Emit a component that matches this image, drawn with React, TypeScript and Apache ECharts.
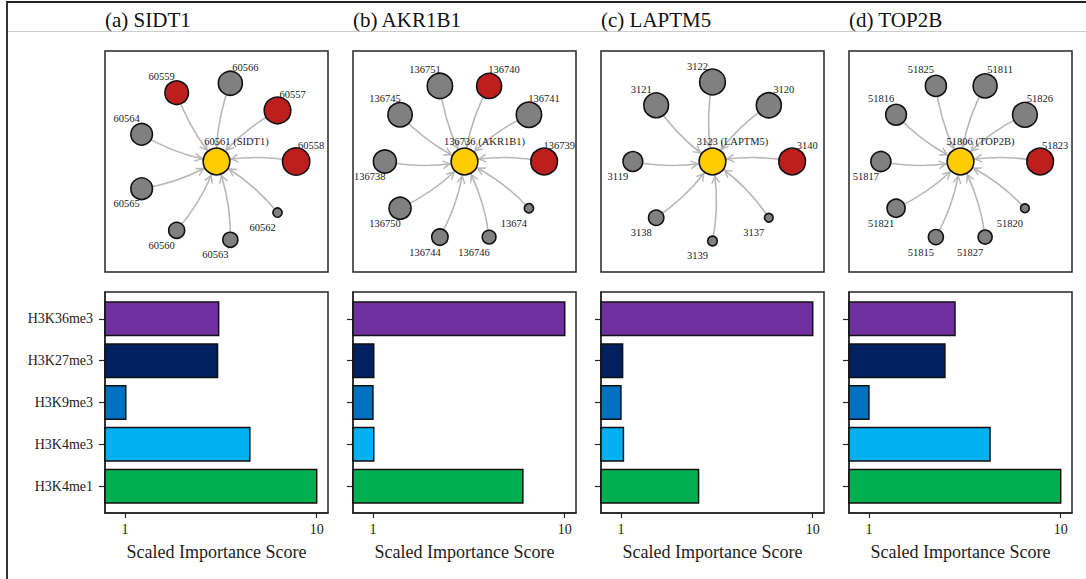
import React, { useEffect, useRef } from 'react';
import * as echarts from 'echarts';

const FONT = 'Liberation Serif';

// ---------- network data ----------
const panelTitles = ['(a) SIDT1', '(b) AKR1B1', '(c) LAPTM5', '(d) TOP2B'];
const centerIds = ['60561', '136736', '3123', '51806'];
const centerGenes = ['SIDT1', 'AKR1B1', 'LAPTM5', 'TOP2B'];
const centerSize = 26.7;

const neighborIdsA = ['60558', '60557', '60566', '60559', '60564', '60565', '60560', '60563', '60562'];
const neighborSizesA = [27.3, 26.6, 24, 23.6, 21.6, 21.6, 16, 15, 9.3];
const neighborRedA = [1, 1, 0, 1, 0, 0, 0, 0, 0];

const neighborIdsB = ['136739', '136741', '136740', '136751', '136745', '136738', '136750', '136744', '136746', '13674'];
const neighborSizesB = [26.7, 25.3, 25, 25.3, 24.3, 23, 22, 16.3, 13.7, 9.3];
const neighborRedB = [1, 0, 1, 0, 0, 0, 0, 0, 0, 0];

const neighborIdsC = ['3140', '3120', '3122', '3121', '3119', '3138', '3139', '3137'];
const neighborSizesC = [26.7, 25, 25.7, 24.7, 19.7, 15.3, 9.7, 8.7];
const neighborRedC = [1, 0, 0, 0, 0, 0, 0, 0];

const neighborIdsD = ['51823', '51826', '51811', '51825', '51816', '51817', '51821', '51815', '51827', '51820'];
const neighborSizesD = [26.7, 24.7, 24, 21, 20.7, 20, 18, 15, 14, 8.7];
const neighborRedD = [1, 0, 0, 0, 0, 0, 0, 0, 0, 0];

// ---------- bar data ----------
const marks = ['H3K36me3', 'H3K27me3', 'H3K9me3', 'H3K4me3', 'H3K4me1'];
const markColors = ['#7030A0', '#002060', '#0070C0', '#00B0F0', '#00B050'];
const scoresA = [3.08, 3.04, 1.01, 4.48, 10.0];
const scoresB = [10.0, 1.01, 1.0, 1.01, 6.05];
const scoresC = [10.0, 1.02, 1.0, 1.03, 2.54];
const scoresD = [2.81, 2.49, 1.0, 4.28, 10.0];
const xTicks = [1, 10];
const xMin = 0.787;
const xMax = 11.45;

const panels = [
  { ids: neighborIdsA, sizes: neighborSizesA, red: neighborRedA, scores: scoresA },
  { ids: neighborIdsB, sizes: neighborSizesB, red: neighborRedB, scores: scoresB },
  { ids: neighborIdsC, sizes: neighborSizesC, red: neighborRedC, scores: scoresC },
  { ids: neighborIdsD, sizes: neighborSizesD, red: neighborRedD, scores: scoresD },
];

const RED = '#BD1E1E';
const GRAY = '#808080';
const YELLOW = '#FFCC00';
const EDGE = '#B8B8B8';
const INK = '#262626';

const ARROW =
  'path://M0,0 L0.01,0 L0,0.01 Z M20,20 L19.99,20 L20,19.99 Z M10,10 L15,19 L13.2,19 L10,13.24 L6.8,19 L5,19 Z';

function buildOption(): any {
  const grid: any[] = [];
  const xAxis: any[] = [];
  const yAxis: any[] = [];
  const series: any[] = [];
  const graphic: any[] = [
    { type: 'line', shape: { x1: 6, y1: 2, x2: 1086, y2: 2 }, style: { stroke: '#222', lineWidth: 2 } },
    { type: 'line', shape: { x1: 7, y1: 2, x2: 7, y2: 579 }, style: { stroke: '#333', lineWidth: 2 } },
    { type: 'line', shape: { x1: 8, y1: 31.5, x2: 1086, y2: 31.5 }, style: { stroke: '#cccccc', lineWidth: 1 } },
  ];

  panels.forEach((p, i) => {
    const left = 105 + 248 * i;
    graphic.push({
      type: 'text',
      x: left,
      y: 20,
      style: {
        text: panelTitles[i],
        fontFamily: FONT,
        fontSize: 21,
        fill: '#111',
        textVerticalAlign: 'middle',
        verticalAlign: 'middle',
      },
    });

    // network grid
    const gNet = grid.length;
    grid.push({
      left, top: 51, width: 223, height: 221, show: true,
      borderColor: INK, borderWidth: 1.5, backgroundColor: '#fff', outerBoundsMode: 'none',
    });
    xAxis.push({ type: 'value', gridIndex: gNet, min: -1.4, max: 1.4, show: false });
    yAxis.push({ type: 'value', gridIndex: gNet, min: -1.39, max: 1.39, show: false });

    const n = p.ids.length;
    const nodes: any[] = [
      {
        name: centerIds[i],
        value: [0, 0],
        symbolSize: centerSize,
        itemStyle: { color: YELLOW },
        label: { formatter: `${centerIds[i]} (${centerGenes[i]})`, offset: [20, -20] },
      },
    ];
    p.ids.forEach((id, k) => {
      const a = (k * 360) / n;
      const r = (a * Math.PI) / 180;
      nodes.push({
        name: id,
        value: [Math.cos(r), Math.sin(r)],
        symbolSize: p.sizes[k],
        itemStyle: { color: p.red[k] ? RED : GRAY },
        label: { offset: [a < 90 ? 15 : -15, a < 180 ? -16 : 15] },
      });
    });
    const links = p.ids.map((id) => ({ source: id, target: centerIds[i] }));
    series.push({
      type: 'graph',
      coordinateSystem: 'cartesian2d',
      xAxisIndex: gNet,
      yAxisIndex: gNet,
      data: nodes,
      links,
      edgeSymbol: ['none', ARROW],
      edgeSymbolSize: [0, 19],
      itemStyle: { borderColor: '#111', borderWidth: 1.6 },
      lineStyle: { color: EDGE, width: 1.6, opacity: 1, curveness: -0.1 },
      label: {
        show: true,
        position: 'inside',
        color: '#222',
        fontSize: 10.5,
        fontFamily: FONT,
      },
      emphasis: { disabled: true },
      silent: true,
    });

    // bar grid
    const gBar = grid.length;
    grid.push({
      left, top: 292, width: 223, height: 221, show: true,
      borderColor: INK, borderWidth: 1.5, backgroundColor: '#fff', outerBoundsMode: 'none',
    });
    xAxis.push({
      type: 'log',
      logBase: 10,
      gridIndex: gBar,
      min: xMin,
      max: xMax,
      splitLine: { show: false },
      axisLine: { show: true, onZero: false, lineStyle: { color: INK, width: 1.5 } },
      axisTick: { show: true, length: 5, customValues: xTicks, lineStyle: { color: INK, width: 1.2 } },
      axisLabel: {
        show: true,
        customValues: xTicks,
        formatter: (v: number) => String(Math.round(v)),
        margin: 9,
        fontSize: 14,
        color: '#222',
        fontFamily: FONT,
      },
      name: 'Scaled Importance Score',
      nameLocation: 'middle',
      nameGap: 30,
      nameTextStyle: { fontSize: 18, color: '#222', fontFamily: FONT },
    });
    yAxis.push({
      type: 'value',
      gridIndex: gBar,
      min: -0.64,
      max: 4.64,
      inverse: true,
      splitLine: { show: false },
      axisLine: { show: true, onZero: false, lineStyle: { color: INK, width: 1.5 } },
      axisTick: { show: true, length: 6, customValues: [0, 1, 2, 3, 4], lineStyle: { color: INK, width: 1.2 } },
      axisLabel: {
        show: i === 0,
        customValues: [0, 1, 2, 3, 4],
        formatter: (v: number) => marks[Math.round(v)] ?? '',
        margin: 12,
        fontSize: 14,
        color: '#222',
        fontFamily: FONT,
      },
    });
    series.push({
      type: 'custom',
      coordinateSystem: 'cartesian2d',
      xAxisIndex: gBar,
      yAxisIndex: gBar,
      encode: { x: 0, y: 1 },
      data: p.scores.map((v, k) => [v, k]),
      renderItem: (params: any, api: any) => {
        const v = api.value(0);
        const c = api.value(1);
        const p0 = api.coord([xMin, c - 0.4]);
        const p1 = api.coord([v, c + 0.4]);
        return {
          type: 'rect',
          shape: {
            x: p0[0],
            y: Math.min(p0[1], p1[1]),
            width: p1[0] - p0[0],
            height: Math.abs(p1[1] - p0[1]),
          },
          style: { fill: markColors[params.dataIndex], stroke: '#111', lineWidth: 1.5 },
        };
      },
      silent: true,
    });
  });

  return {
    animation: false,
    backgroundColor: '#ffffff',
    textStyle: { fontFamily: FONT },
    grid,
    xAxis,
    yAxis,
    series,
    graphic,
  };
}

export default function App() {
  const ref = useRef<HTMLDivElement>(null);
  useEffect(() => {
    if (!ref.current) return;
    const chart = echarts.init(ref.current, null, { renderer: 'svg' });
    chart.setOption(buildOption());
    return () => chart.dispose();
  }, []);
  return (
    <div
      ref={ref}
      style={{ position: 'absolute', left: 0, top: 0, width: 1086, height: 579 }}
    />
  );
}
